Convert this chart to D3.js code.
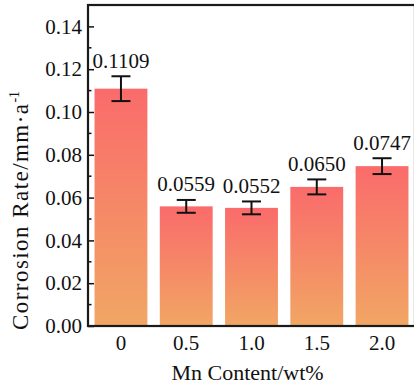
<!DOCTYPE html>
<html>
<head>
<meta charset="utf-8">
<script src="https://cdn.jsdelivr.net/npm/d3@7"></script>
</head>
<body style="margin:0;background:#fff">
<div id="chart"></div>
<script>
// data
const categories = ['0', '0.5', '1.0', '1.5', '2.0'];
const rates = [0.1109, 0.0559, 0.0552, 0.0650, 0.0747];
const errors = [0.0058, 0.0030, 0.0030, 0.0035, 0.0037];
const valueLabels = ['0.1109', '0.0559', '0.0552', '0.0650', '0.0747'];
const yTicks = [0, 0.02, 0.04, 0.06, 0.08, 0.10, 0.12, 0.14];

const FONT = '"Liberation Serif", "Times New Roman", "DejaVu Serif", serif';

const width = 414, height = 385;
const margin = { top: 5, right: -1, bottom: 59, left: 88 };
const w = width - margin.left - margin.right;
const h = height - margin.top - margin.bottom;

const svg = d3.select('#chart').append('svg')
  .attr('width', width).attr('height', height)
  .style('font-family', FONT);

const defs = svg.append('defs');
const grad = defs.append('linearGradient')
  .attr('id', 'barGrad')
  .attr('x1', 0).attr('y1', 0).attr('x2', 0).attr('y2', 1);
grad.append('stop').attr('offset', '0%').attr('stop-color', '#fa6b6b');
grad.append('stop').attr('offset', '100%').attr('stop-color', '#f1a664');

const g = svg.append('g').attr('transform', `translate(${margin.left},${margin.top})`);

const x = d3.scaleBand()
  .domain(categories)
  .range([0, w])
  .paddingInner(0.19)
  .paddingOuter(0.1);

const y = d3.scaleLinear().domain([0, 0.15]).range([h, 0]);

// bars
g.append('g').selectAll('rect')
  .data(rates)
  .join('rect')
  .attr('x', (d, i) => x(categories[i]))
  .attr('y', d => y(d))
  .attr('width', x.bandwidth())
  .attr('height', d => y(0) - y(d))
  .attr('fill', 'url(#barGrad)');

// error bars
const eb = g.append('g').attr('stroke', '#111').attr('stroke-width', 2);
rates.forEach((d, i) => {
  const cx = x(categories[i]) + x.bandwidth() / 2;
  const top = y(d + errors[i]), bot = y(d - errors[i]);
  eb.append('line').attr('x1', cx).attr('x2', cx).attr('y1', top).attr('y2', bot);
  eb.append('line').attr('x1', cx - 9.5).attr('x2', cx + 9.5).attr('y1', top).attr('y2', top);
  eb.append('line').attr('x1', cx - 9.5).attr('x2', cx + 9.5).attr('y1', bot).attr('y2', bot);
});

// value labels
g.append('g').selectAll('text')
  .data(rates)
  .join('text')
  .attr('x', (d, i) => x(categories[i]) + x.bandwidth() / 2)
  .attr('y', (d, i) => y(d + errors[i]) - 8.5)
  .attr('text-anchor', 'middle')
  .attr('font-size', 21)
  .attr('fill', '#111')
  .text((d, i) => valueLabels[i]);

// y axis with inward ticks + minor ticks
const yAxis = g.append('g')
  .call(d3.axisLeft(y).tickValues(yTicks).tickFormat(d3.format('.2f')).tickSize(-6).tickPadding(6));
yAxis.attr('font-family', FONT);
yAxis.select('.domain').remove();
yAxis.selectAll('line').attr('stroke', '#111').attr('stroke-width', 1.5);
yAxis.selectAll('text').attr('font-size', 21).attr('fill', '#111');

const minor = d3.range(0.01, 0.15, 0.02);
g.append('g').selectAll('line')
  .data(minor)
  .join('line')
  .attr('x1', 0).attr('x2', 3.5)
  .attr('y1', d => y(d)).attr('y2', d => y(d))
  .attr('stroke', '#111').attr('stroke-width', 1.5);

// x axis labels
const xAxis = g.append('g')
  .attr('transform', `translate(0,${h})`)
  .call(d3.axisBottom(x).tickSize(0).tickPadding(9));
xAxis.attr('font-family', FONT);
xAxis.select('.domain').remove();
xAxis.selectAll('text').attr('font-size', 21).attr('fill', '#111');

// frame
g.append('rect')
  .attr('x', 0).attr('y', 0).attr('width', w).attr('height', h)
  .attr('fill', 'none').attr('stroke', '#1a1a1a').attr('stroke-width', 2.2);

// axis titles
svg.append('text')
  .attr('x', margin.left + w / 2 - 4)
  .attr('y', 380)
  .attr('text-anchor', 'middle')
  .attr('font-size', 22)
  .attr('fill', '#111')
  .text('Mn Content/wt%');

const yt = svg.append('text')
  .attr('transform', 'translate(28,330) rotate(-90)')
  .attr('text-anchor', 'start')
  .attr('font-size', 23)
  .attr('fill', '#111');
yt.append('tspan').attr('textLength', 226).attr('lengthAdjust', 'spacing').text('Corrosion Rate/mm·a');
yt.append('tspan').attr('dy', -9).attr('font-size', 14).text('-1');
</script>
</body>
</html>
